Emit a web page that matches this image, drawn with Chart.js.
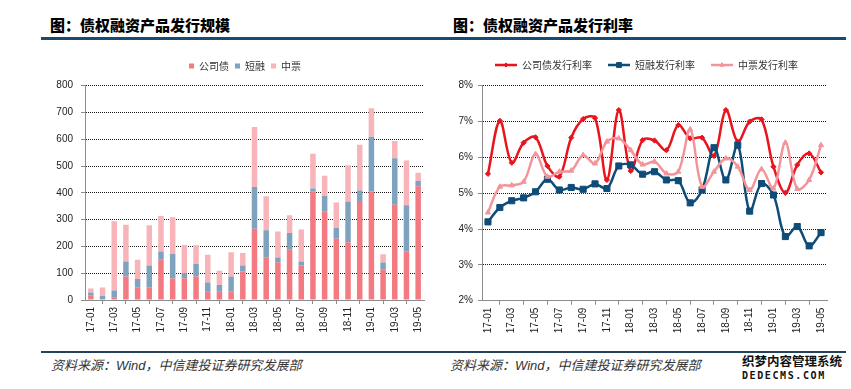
<!DOCTYPE html>
<html>
<head>
<meta charset="utf-8">
<script src="https://cdn.jsdelivr.net/npm/chart.js@4.4.1/dist/chart.umd.min.js"></script>
<style>
  body { margin: 0; width: 851px; height: 389px; background: #fff; position: relative; overflow: hidden; }
  .title { position: absolute; top: 16px; font: 900 15px/18px "Noto Sans CJK SC", sans-serif; color: #000; }
  .rule { position: absolute; left: 41px; width: 805px; }
  .src { position: absolute; top: 358px; font: italic 13px/16px "Liberation Sans", "Noto Sans CJK SC", sans-serif; color: #333; }
  .mark { position: absolute; left: 742px; font-weight: bold; color: #111; white-space: nowrap; }
  canvas { position: absolute; }
</style>
</head>
<body>
<div class="title" style="left:50px">图：债权融资产品发行规模</div>
<div class="title" style="left:453px">图：债权融资产品发行利率</div>
<div class="rule" style="top:37px;height:3px;background:#1b4a70"></div>
<div class="rule" style="top:351px;height:2px;background:#24425a"></div>
<div class="src" style="left:51px">资料来源：Wind，中信建投证券研究发展部</div>
<div class="src" style="left:450px">资料来源：Wind，中信建投证券研究发展部</div>
<div class="mark" style="top:354px;font:bold 12.5px/14px 'Noto Sans CJK SC'">织梦内容管理系统</div>
<div class="mark" style="top:370px;font:bold 10px/12px 'DejaVu Sans Mono';letter-spacing:1.6px">DEDECMS.COM</div>

<canvas id="scaleChart" width="490" height="300" style="left:0;top:45px"></canvas>
<canvas id="rateChart" width="409" height="300" style="left:442px;top:44px"></canvas>

<script>
// months 17-01 .. 19-05
const months = ['17-01','17-02','17-03','17-04','17-05','17-06','17-07','17-08','17-09','17-10','17-11','17-12',
  '18-01','18-02','18-03','18-04','18-05','18-06','18-07','18-08','18-09','18-10','18-11','18-12',
  '19-01','19-02','19-03','19-04','19-05'];

// issuance, 亿元
const corpBond = [18, 0, 10, 88, 48, 48, 150, 80, 81, 88, 31, 31, 31, 106, 266, 160, 141, 188, 129, 406, 331, 229, 216, 366, 405, 115, 356, 181, 425];
const shortBill = [10, 15, 25, 56, 30, 81, 31, 93, 19, 47, 34, 25, 57, 23, 156, 100, 18, 62, 15, 10, 57, 41, 152, 43, 204, 25, 173, 173, 19];
const mtnNote = [15, 32, 259, 137, 72, 150, 133, 136, 105, 69, 104, 53, 90, 46, 224, 127, 97, 66, 119, 130, 76, 94, 135, 171, 107, 31, 65, 167, 31];

// issuance rates, %
const corpRate = [5.54, 7.02, 5.85, 6.41, 6.56, 5.76, 5.46, 6.55, 7.07, 7.1, 5.37, 7.32, 5.62, 6.48, 6.47, 6.2, 6.9, 6.53, 6.55, 6.04, 7.32, 6.44, 7.0, 7.06, 5.74, 5.01, 5.79, 6.11, 5.58];
const shortRate = [4.2, 4.6, 4.79, 4.87, 5.04, 5.39, 5.09, 5.16, 5.11, 5.26, 5.13, 5.76, 5.79, 5.53, 5.6, 5.37, 5.35, 4.73, 5.09, 6.27, 5.37, 6.34, 4.5, 5.27, 4.95, 3.79, 4.07, 3.53, 3.9];
const mtnRate = [4.46, 5.18, 5.22, 5.32, 6.09, 5.46, 5.6, 5.63, 6.06, 5.83, 6.44, 6.53, 6.2, 5.8, 5.88, 5.55, 5.6, 6.78, 5.18, 5.6, 5.97, 5.74, 5.09, 5.67, 5.13, 6.41, 5.12, 5.37, 6.34];

const scaleTicks = [0, 800, 100];   // min, max, step
const rateTicks = [2, 8, 1];

const TEXT = '#222';
const AXIS = '#8c8c8c';
const tickFont = { family: 'Liberation Sans', size: 10 };
const legendFont = { family: 'Noto Sans CJK SC', size: 10 };

// legend sits a bit higher above the plot than Chart.js leaves by default
const legendGap = {
    id: 'legendGap',
    beforeLayout(chart, args, opts) {
        const lg = chart.legend;
        if (lg && !lg._gapDone) {
            const fit = lg.fit;
            lg.fit = function () { fit.call(this); this.height += opts.extra || 0; };
            lg._gapDone = true;
        }
    }
};

function xAxis(height) {
    return {
        offset: true,
        grid: { offset: true, drawOnChartArea: false, tickLength: 4, tickColor: AXIS },
        border: { color: AXIS },
        ticks: {
            autoSkip: false, minRotation: 90, maxRotation: 90, padding: 3,
            color: TEXT, font: tickFont,
            callback(v, i) { return i % 2 === 0 ? months[i] : null; }
        },
        afterFit(s) { s.height = height; }
    };
}

function yAxis(range, width, pad, fmt, stacked) {
    return {
        stacked: stacked,
        min: range[0], max: range[1],
        grid: {
            color: c => (c.tick && c.tick.value === range[0]) ? 'transparent' : '#1a1a1a',
            tickLength: 4, tickColor: AXIS
        },
        border: { color: AXIS, dash: [1, 1] },
        ticks: { stepSize: range[2], padding: pad, color: TEXT, font: tickFont, callback: fmt },
        afterFit(s) { s.width = width; }
    };
}

function spacer(width) {
    return {
        position: 'right', display: true,
        grid: { display: false, drawTicks: false },
        border: { display: false },
        ticks: { display: false },
        afterFit(s) { s.width = width; }
    };
}

new Chart(document.getElementById('scaleChart'), {
    type: 'bar',
    data: {
        labels: months,
        datasets: [
            { label: '公司债', data: corpBond, backgroundColor: '#f27a80' },
            { label: '短融', data: shortBill, backgroundColor: '#7fa2bf' },
            { label: '中票', data: mtnNote, backgroundColor: '#f8b4b8' }
        ]
    },
    options: {
        responsive: false,
        animation: false,
        devicePixelRatio: 1,
        layout: { padding: { top: 10, left: 0, right: 0, bottom: 0 } },
        datasets: { bar: { barPercentage: 0.47, categoryPercentage: 1 } },
        scales: {
            x: Object.assign(xAxis(45), { stacked: true }),
            y: yAxis(scaleTicks, 85, 8, v => v, true),
            pad: spacer(66)
        },
        plugins: {
            legend: {
                position: 'top',
                labels: { boxWidth: 5, boxHeight: 5, padding: 6, color: '#333', font: legendFont }
            },
            legendGap: { extra: 4.7 },
            tooltip: { enabled: false }
        }
    },
    plugins: [legendGap]
});

function legendIcon(color, style, radius) {
    const c = document.createElement('canvas');
    c.width = 22; c.height = 10;
    const g = c.getContext('2d');
    g.strokeStyle = color;
    g.lineWidth = 2.5;
    g.beginPath(); g.moveTo(0, 5); g.lineTo(22, 5); g.stroke();
    g.fillStyle = color;
    g.lineWidth = 1;
    Chart.helpers.drawPoint(g, { pointStyle: style, radius: radius, borderWidth: 1 }, 11, 5);
    return c;
}

const rateSeries = [
    { label: '公司债发行利率', data: corpRate, color: '#e8141e', style: 'rectRot', r: 2.6 },
    { label: '短融发行利率', data: shortRate, color: '#0f4c78', style: 'rect', r: 4.3 },
    { label: '中票发行利率', data: mtnRate, color: '#f2949a', style: 'triangle', r: 3 }
];

new Chart(document.getElementById('rateChart'), {
    type: 'line',
    data: {
        labels: months,
        datasets: rateSeries.map(s => ({
            label: s.label,
            data: s.data,
            borderColor: s.color,
            backgroundColor: s.color,
            borderWidth: 2.5,
            tension: 0.35,
            pointStyle: s.style,
            pointRadius: s.r,
            pointBorderWidth: 1
        })).reverse()
    },
    options: {
        responsive: false,
        animation: false,
        devicePixelRatio: 1,
        layout: { padding: 0 },
        scales: {
            x: xAxis(43.3),
            y: yAxis(rateTicks, 40, 5, v => v + '%', false),
            pad: spacer(24)
        },
        plugins: {
            legend: {
                position: 'top',
                labels: {
                    usePointStyle: true, pointStyleWidth: 22, padding: 16,
                    color: '#333', font: legendFont,
                    generateLabels: () => rateSeries.map((s, i) => ({
                        text: s.label,
                        pointStyle: legendIcon(s.color, s.style, s.r * 0.8),
                        fillStyle: s.color, strokeStyle: s.color, lineWidth: 0,
                        fontColor: '#333', hidden: false, datasetIndex: 2 - i
                    }))
                }
            },
            legendGap: { extra: 5.7 },
            tooltip: { enabled: false }
        }
    },
    plugins: [legendGap]
});
</script>
</body>
</html>
